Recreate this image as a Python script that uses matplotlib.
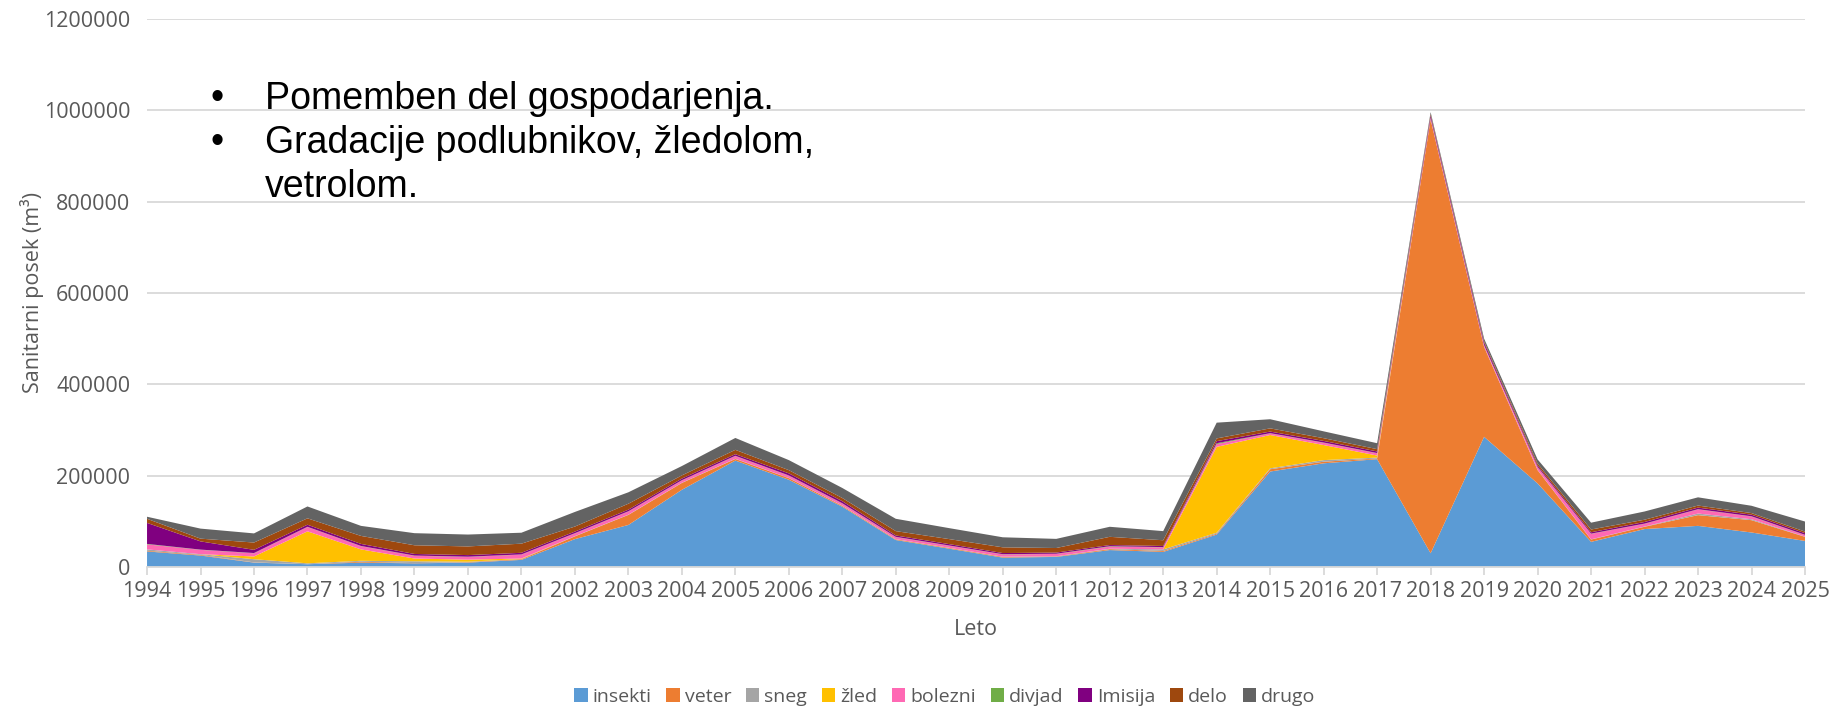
import numpy as np
import matplotlib
matplotlib.use("Agg")
import matplotlib.pyplot as plt
from matplotlib.patches import Patch
from matplotlib.ticker import FuncFormatter

years = list(range(1994, 2026))

insekti = [34000, 25000, 9500, 6000, 9500, 8000, 9500, 15500, 61000, 92000,
           169000, 233000, 191000, 132000, 59000, 40000, 20500, 22000, 37000, 33000,
           71000, 209000, 227000, 236000, 30000, 285000, 183000, 55000, 83000, 90000,
           75500, 57000]
veter = [1500, 1500, 500, 0, 2000, 500, 1000, 1500, 6000, 22000,
         15000, 3500, 3500, 2000, 1500, 1500, 1500, 1000, 2000, 2000,
         2000, 5000, 3500, 1500, 950000, 197000, 29000, 5000, 5000, 23500,
         27000, 9000]
sneg = [3000, 1500, 7000, 2000, 2000, 4000, 1000, 500, 500, 500,
        500, 500, 500, 500, 500, 500, 500, 500, 1000, 3500,
        2000, 2000, 3500, 2000, 500, 500, 500, 500, 500, 3500,
        2000, 500]
zled = [0, 0, 6000, 70000, 25000, 6000, 4500, 1000, 0, 0,
        0, 0, 0, 0, 0, 0, 0, 0, 0, 0,
        188000, 73000, 33000, 4500, 0, 0, 0, 0, 0, 0,
        0, 0]
bolezni = [11000, 9500, 7000, 9500, 7000, 6000, 6000, 8500, 6000, 7000,
           5000, 6000, 5000, 4500, 4500, 4500, 5000, 5000, 4500, 4500,
           6000, 3500, 5000, 5000, 3000, 3000, 6000, 12000, 6000, 9000,
           6000, 3500]
divjad = [1000, 500, 500, 500, 500, 500, 500, 500, 500, 500,
          500, 500, 500, 500, 500, 500, 500, 500, 1000, 500,
          2000, 500, 500, 500, 500, 500, 500, 500, 500, 500,
          500, 500]
imisija = [46000, 18000, 7000, 4500, 4500, 3500, 3500, 3500, 3500, 3500,
           3500, 3500, 4500, 4500, 3000, 3000, 2500, 2500, 2500, 2500,
           4500, 3500, 3500, 3500, 5000, 5000, 3000, 3000, 3500, 3500,
           3500, 3500]
delo = [9000, 6000, 16000, 14000, 17500, 19000, 19000, 20000, 11000, 13000,
        7000, 9500, 7000, 7000, 9500, 11000, 12500, 10000, 18000, 12500,
        6000, 7000, 6000, 5000, 3000, 3000, 4500, 6000, 5000, 4500,
        3500, 3500]
drugo = [4500, 22000, 20000, 26000, 22000, 26500, 26000, 24000, 32000, 25000,
         20500, 26000, 22000, 22000, 27000, 24000, 22000, 20000, 22000, 20000,
         34500, 20000, 15000, 13000, 4000, 6000, 9000, 15000, 18000, 18000,
         16000, 22000]

labels = ["insekti", "veter", "sneg", "žled", "bolezni", "divjad", "Imisija", "delo", "drugo"]
colors = ["#5B9BD5", "#ED7D31", "#A5A5A5", "#FFC000", "#FF69B4", "#70AD47",
          "#800080", "#9E480E", "#636363"]

plt.rcParams["font.family"] = ["Open Sans", "DejaVu Sans"]
grey_txt = "#595959"

fig = plt.figure(figsize=(18.31, 7.08), dpi=100)
ax = fig.add_axes([0.0803, 0.1992, 0.9055, 0.774])

series = [insekti, veter, sneg, zled, bolezni, divjad, imisija, delo, drugo]
ax.stackplot(years, *series, colors=colors, linewidth=0, zorder=2)

ax.set_xlim(1994, 2025)
ax.set_ylim(0, 1200000)
ax.set_xticks(years)
ax.set_xticklabels([str(y) for y in years])
ax.set_yticks(np.arange(0, 1200001, 200000))
ax.yaxis.set_major_formatter(FuncFormatter(lambda v, p: f"{int(v)}"))
ax.yaxis.grid(True, color="#D9D9D9", linewidth=1.3, zorder=0)
ax.set_axisbelow(True)

for s in ["top", "right", "left"]:
    ax.spines[s].set_visible(False)
ax.spines["bottom"].set_color("#D9D9D9")
ax.spines["bottom"].set_linewidth(1.3)
ax.tick_params(axis="x", colors="#D9D9D9", length=6, width=1.3, pad=4,
               labelcolor=grey_txt, labelsize=15.5)
ax.tick_params(axis="y", length=0, pad=12, labelcolor=grey_txt, labelsize=15.5)

ax.set_xlabel("Leto", fontsize=15.5, color=grey_txt, labelpad=12)
ax.set_ylabel("Sanitarni posek (m³)", fontsize=15.5, color=grey_txt, labelpad=0)

# bullet notes
note_font = ["Liberation Sans", "DejaVu Sans"]
note_size = 27
rows = [(99, "•", "Pomemben del gospodarjenja."),
        (143, "•", "Gradacije podlubnikov, žledolom,"),
        (187, "", "vetrolom.")]
for ypx, bullet, line in rows:
    if bullet:
        fig.text(0.1147, 1 - ypx / 708, bullet, fontsize=note_size, family=note_font, va="center")
    fig.text(0.1447, 1 - ypx / 708, line, fontsize=note_size, family=note_font, va="center")

handles = [Patch(facecolor=c, edgecolor="none") for c in colors]
fig.legend(handles, labels, loc="center", bbox_to_anchor=(0.516, 0.0155), ncol=9,
           frameon=False, fontsize=14, handlelength=0.7, handleheight=0.7,
           handletextpad=0.25, columnspacing=0.75, labelcolor=grey_txt)

fig.savefig("out.png", dpi=100)
